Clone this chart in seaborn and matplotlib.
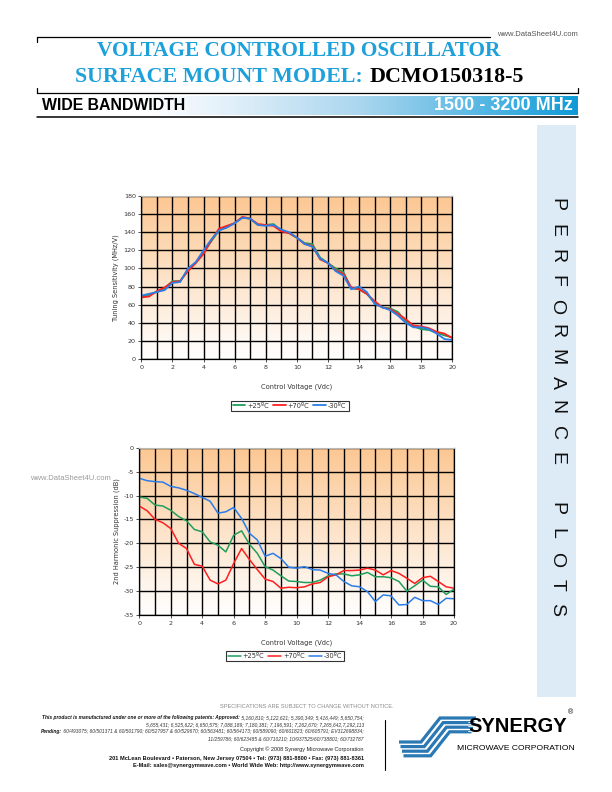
import numpy as np
import pandas as pd
import matplotlib
matplotlib.use("Agg")
import matplotlib.pyplot as plt
import seaborn as sns
from matplotlib import font_manager
from matplotlib.lines import Line2D
from matplotlib.patches import Rectangle
from matplotlib.colors import LinearSegmentedColormap
from matplotlib.ticker import MultipleLocator

# ---------------- data ----------------
voltage = [0, 0.5, 1, 1.5, 2, 2.5, 3, 3.5, 4, 4.5, 5, 5.5, 6, 6.5, 7, 7.5, 8, 8.5, 9, 9.5,
           10, 10.5, 11, 11.5, 12, 12.5, 13, 13.5, 14, 14.5, 15, 15.5, 16, 16.5, 17, 17.5,
           18, 18.5, 19, 19.5, 20]

ts_25 = [69, 71, 74, 78, 86, 86, 99, 106, 118, 130, 142, 146, 150, 156, 155, 148, 148, 149, 142, 139,
         134, 128, 127, 112, 106, 100, 96, 78, 77, 72, 62, 57, 56, 52, 42, 36, 33, 32, 29, 26, 24]
ts_70 = [68, 69, 75, 79, 85, 86, 97, 106, 116, 131, 144, 147, 150, 157, 155, 149, 148, 147, 141, 139,
         134, 127, 125, 110, 106, 98, 94, 79, 77, 72, 64, 57, 55, 50, 44, 37, 36, 34, 30, 28, 23]
ts_m30 = [70, 72, 74, 76, 84, 85, 100, 107, 120, 132, 142, 145, 150, 156, 155, 148, 147, 148, 143, 140,
          134, 127, 124, 111, 106, 97, 92, 77, 80, 74, 61, 57, 54, 48, 40, 35, 35, 33, 28, 22, 21]

hs_25 = [-10.3, -10.6, -12.0, -12.2, -13.1, -14.4, -15.3, -17.1, -17.6, -19.7,
         -20.4, -21.8, -18.3, -17.4, -20.2, -22.1, -24.9, -25.6, -26.8, -27.9,
         -28.0, -28.2, -28.2, -27.7, -26.8, -26.4, -26.4, -26.8, -26.6, -26.1,
         -27.0, -27.0, -27.2, -28.0, -30.0, -28.9, -27.7, -29.0, -29.1, -30.7, -29.6]
hs_70 = [-12.2, -13.2, -15.0, -15.7, -16.9, -20.0, -21.1, -24.4, -24.8, -27.7,
         -28.5, -27.7, -24.2, -21.1, -23.4, -25.5, -27.5, -28.0, -29.4, -29.2,
         -29.3, -29.1, -28.5, -28.2, -27.0, -26.6, -25.7, -25.7, -25.6, -25.2,
         -25.6, -26.6, -25.7, -26.3, -27.3, -28.4, -27.2, -26.9, -28.0, -29.1, -29.4]
hs_m30 = [-6.4, -6.9, -7.1, -7.2, -8.1, -8.4, -8.9, -9.6, -10.4, -11.2,
          -13.7, -13.4, -12.5, -14.8, -17.9, -19.3, -22.7, -22.1, -23.2, -25.0,
          -25.2, -24.9, -25.5, -25.6, -26.3, -26.6, -28.0, -28.9, -29.1, -30.1,
          -32.2, -30.8, -31.0, -32.9, -32.8, -31.3, -32.0, -32.0, -32.8, -31.5, -31.6]

series_labels = ["+25ºC", "+70ºC", "-30ºC"]
series_colors = ["#1f9e5c", "#ff1f1f", "#2b7de9"]

x_label = "Control Voltage (Vdc)"
y1_label = "Tuning Sensitivity (MHz/V)"
y2_label = "2nd Harmonic Suppression (dB)"

# ---------------- figure ----------------
sns.set_style("white")
plt.rcParams['font.family'] = ['DejaVu Sans']
plt.rcParams['axes.unicode_minus'] = False

W, H = 612, 792
fig = plt.figure(figsize=(6.12, 7.92), dpi=100)
fig.patch.set_facecolor("white")


def fx(x):
    return x / W


def fy(y):
    return 1 - y / H


def fline(xs, ys, **kw):
    fig.add_artist(Line2D([fx(v) for v in xs], [fy(v) for v in ys],
                          transform=fig.transFigure, **kw))


BLUE = "#1ea0da"

# header frame
fline([37, 490], [37, 37], color="black", lw=0.9)
fline([37, 37], [37, 42], color="black", lw=0.9)
fig.text(fx(578), fy(35), "www.DataSheet4U.com", ha="right", va="center",
         fontsize=5.5, color="#555555", family="Liberation Sans")
fig.text(fx(97), fy(51), "VOLTAGE CONTROLLED OSCILLATOR", ha="left", va="center",
         fontsize=15.3, color=BLUE, family="Liberation Serif", fontweight="bold")
fig.text(fx(363), fy(77.5), "SURFACE MOUNT MODEL:", ha="right", va="center",
         fontsize=15.8, color=BLUE, family="Liberation Serif", fontweight="bold")
fig.text(fx(370), fy(77.5), "DCMO150318-5", ha="left", va="center",
         fontsize=15.8, color="black", family="Liberation Serif", fontweight="bold")
fline([37, 578], [93, 93], color="black", lw=0.9)
fline([37, 37], [88, 93], color="black", lw=0.9)
fline([578, 578], [88, 93], color="black", lw=0.9)

# gradient bar
bar_ax = fig.add_axes([fx(37), fy(115.5), fx(578) - fx(37), (115.5 - 95.5) / H])
bar_cmap = LinearSegmentedColormap.from_list(
    "bar", [(0, "#ffffff"), (0.2, "#ffffff"), (0.35, "#e3f0f9"), (0.6, "#aad6ee"),
            (0.85, "#4cb3e2"), (1.0, "#0e9ad6")])
bar_ax.imshow(np.linspace(0, 1, 512).reshape(1, -1), cmap=bar_cmap, aspect="auto",
              extent=[0, 1, 0, 1])
bar_ax.set_axis_off()
fig.text(fx(42), fy(105.5), "WIDE BANDWIDTH", ha="left", va="center", fontsize=11.4,
         fontweight="bold", family="Liberation Sans", color="black")
fig.text(fx(573), fy(105), "1500 - 3200 MHz", ha="right", va="center", fontsize=13,
         fontweight="bold", family="Liberation Sans", color="white")
fline([37, 578], [116.5, 116.5], color="black", lw=1.1)

# side panel
fig.add_artist(Rectangle((fx(537), fy(697)), fx(576) - fx(537), (697 - 125) / H,
                         transform=fig.transFigure, facecolor="#ddebf7", edgecolor="none"))
side_word = "PERFORMANCE PLOTS"
for i, ch in enumerate(side_word):
    if ch == " ":
        continue
    fig.text(fx(557), fy(205 + i * 25.3), ch, rotation=270, ha="center", va="center",
             fontsize=14, family="Liberation Sans", color="#111111")

fig.text(fx(30), fy(479), "www.DataSheet4U.com", ha="left", va="center",
         fontsize=5.5, color="#9a9a9a", family="Liberation Sans")

# ---------------- charts ----------------
bg_cmap = LinearSegmentedColormap.from_list("bg", ["#ffffff", "#fde3c9", "#fcc792"])
palette = dict(zip(series_labels, series_colors))


def make_chart(rect, series, ylim, ystep, ylabel, lw, ylabelpad):
    bg = fig.add_axes(rect, zorder=0)
    bg.imshow(np.linspace(0, 1, 256).reshape(-1, 1), origin="lower", cmap=bg_cmap,
              aspect="auto", extent=[0, 1, 0, 1])
    bg.set_axis_off()
    ax = fig.add_axes(rect, zorder=1)
    ax.patch.set_alpha(0)
    frames = []
    for lab, vals in zip(series_labels, series):
        frames.append(pd.DataFrame({"V": voltage, "val": vals, "series": lab}))
    df = pd.concat(frames, ignore_index=True)
    sns.lineplot(data=df, x="V", y="val", hue="series", hue_order=series_labels,
                 palette=palette, ax=ax, legend=False, linewidth=lw, estimator=None,
                 sort=False)
    ax.set_xlim(0, 20)
    ax.set_ylim(*ylim)
    ax.xaxis.set_major_locator(MultipleLocator(2))
    ax.xaxis.set_minor_locator(MultipleLocator(1))
    ax.yaxis.set_major_locator(MultipleLocator(ystep))
    ax.set_axisbelow(True)
    ax.grid(which="both", axis="x", color="black", lw=1.0)
    ax.grid(which="major", axis="y", color="black", lw=1.0)
    ax.tick_params(which="major", direction="out", length=2.2, width=0.6, pad=1.8,
                   labelsize=4.6, colors="#333333", left=True, bottom=True)
    ax.tick_params(which="minor", length=0)
    for s in ["left", "bottom", "right"]:
        ax.spines[s].set_color("black")
        ax.spines[s].set_linewidth(0.9)
    ax.spines["top"].set_color("#b8b8b8")
    ax.spines["top"].set_linewidth(0.8)
    ax.set_xlabel(x_label, fontsize=4.8, color="#333333", labelpad=10)
    ax.set_ylabel(ylabel, fontsize=4.8, color="#333333", labelpad=ylabelpad)
    return ax


ax1 = make_chart([fx(141.3), fy(359), fx(452.3) - fx(141.3), (359 - 196) / H],
                 [ts_25, ts_70, ts_m30], (0, 180), 20, y1_label, 1.3, 3.5)
ax2 = make_chart([fx(139.3), fy(615), fx(454) - fx(139.3), (615 - 447.7) / H],
                 [hs_25, hs_70, hs_m30], (-35, 0), 5, y2_label, 1.1, 2.5)

for ax, (cx, cy) in [(ax1, (289.5, 405.5)), (ax2, (285, 656))]:
    handles = ax.get_lines()[:3]
    leg = fig.legend(handles, series_labels, loc="center", bbox_to_anchor=(fx(cx), fy(cy)),
                     ncol=3, frameon=True, fancybox=False, fontsize=4.8, handlelength=1.9,
                     handletextpad=0.3, columnspacing=0.6, borderpad=0.3, borderaxespad=0)
    leg.get_frame().set_edgecolor("black")
    leg.get_frame().set_linewidth(0.8)
    for t in leg.get_texts():
        t.set_color("#333333")

# ---------------- footer ----------------
fig.text(fx(307), fy(706.5), "SPECIFICATIONS ARE SUBJECT TO CHANGE WITHOUT NOTICE.",
         ha="center", va="center", fontsize=4.1, color="#8a8a8a", family="Liberation Sans")

renderer = fig.canvas.get_renderer()
RX = 364
patent_lines = [
    (718, "This product is manufactured under one or more of the following patents: Approved:",
     " 5,160,810; 5,122,621; 5,390,349; 5,416,449; 5,650,754;"),
    (724.5, "", "5,655,431; 6,525,622; 6,650,575; 7,088,189; 7,180,381; 7,196,591; 7,262,670; 7,265,642,7,292,113"),
    (731, "Pending:", " 60/493075; 60/501371 & 60/501790; 60/527957 & 60/529670; 60/563481; 60/564173; 60/589090; 60/601823; 60/605791; EV312698834;"),
    (738.5, "", "11/259786; 60/623485 & 60/710210; 10/937525/60/738801; 60/732787"),
]
for yy, bold_part, plain_part in patent_lines:
    t = fig.text(fx(RX), fy(yy), plain_part, ha="right", va="center", fontsize=3.5,
                 style="italic", family="Liberation Sans", color="#333333")
    if bold_part:
        bb = t.get_window_extent(renderer=renderer)
        fig.text(bb.x0 / fig.bbox.width, fy(yy), bold_part, ha="right", va="center",
                 fontsize=3.5, style="italic", fontweight="bold", family="Liberation Sans",
                 color="#111111")

fig.text(fx(RX), fy(749), "Copyright © 2008 Synergy Microwave Corporation", ha="right",
         va="center", fontsize=4.0, family="Liberation Sans", color="#222222")
fig.text(fx(RX), fy(758.5),
         "201 McLean Boulevard • Paterson, New Jersey 07504 • Tel: (973) 881-8800 • Fax: (973) 881-8361",
         ha="right", va="center", fontsize=4.1, fontweight="bold", family="Liberation Sans",
         color="#111111")
fig.text(fx(RX), fy(765.5),
         "E-Mail: sales@synergymwave.com • World Wide Web: http://www.synergymwave.com",
         ha="right", va="center", fontsize=4.1, fontweight="bold", family="Liberation Sans",
         color="#111111")
fline([385, 385], [720, 770], color="black", lw=0.8)

# logo emblem: stepped "S" of parallel stripes
LOGO = "#2a78b4"
for i in range(4):
    xs = [476 - 1.5 * i, 440 + 3.2 * i, 421 + 3.2 * i, 399 + 1.5 * i]
    ys = [718 + 4.6 * i, 718 + 4.6 * i, 742 + 4.6 * i, 742 + 4.6 * i]
    fline(xs, ys, color=LOGO, lw=2.3, solid_joinstyle="miter", solid_capstyle="butt")

names = {f.name for f in font_manager.fontManager.ttflist}
if "Liberation Sans Narrow" in names:
    logo_family, logo_size = "Liberation Sans Narrow", 18
else:
    logo_family, logo_size = "Liberation Sans", 14.5
fig.text(fx(518), fy(726.5), "SYNERGY", ha="center", va="center", fontsize=logo_size,
         fontweight="bold", family=logo_family, color="black")
for yy in [721.5, 726.0, 730.5]:
    fline([468, 568], [yy, yy], color="white", lw=0.6)
fig.text(fx(571), fy(712.5), "®", ha="center", va="center", fontsize=5,
         family="Liberation Sans", color="black")
fig.text(fx(516), fy(748), "MICROWAVE CORPORATION", ha="center", va="center",
         fontsize=6.1, family="Liberation Sans", color="black")

fig.savefig("out.png", dpi=100, facecolor="white")
